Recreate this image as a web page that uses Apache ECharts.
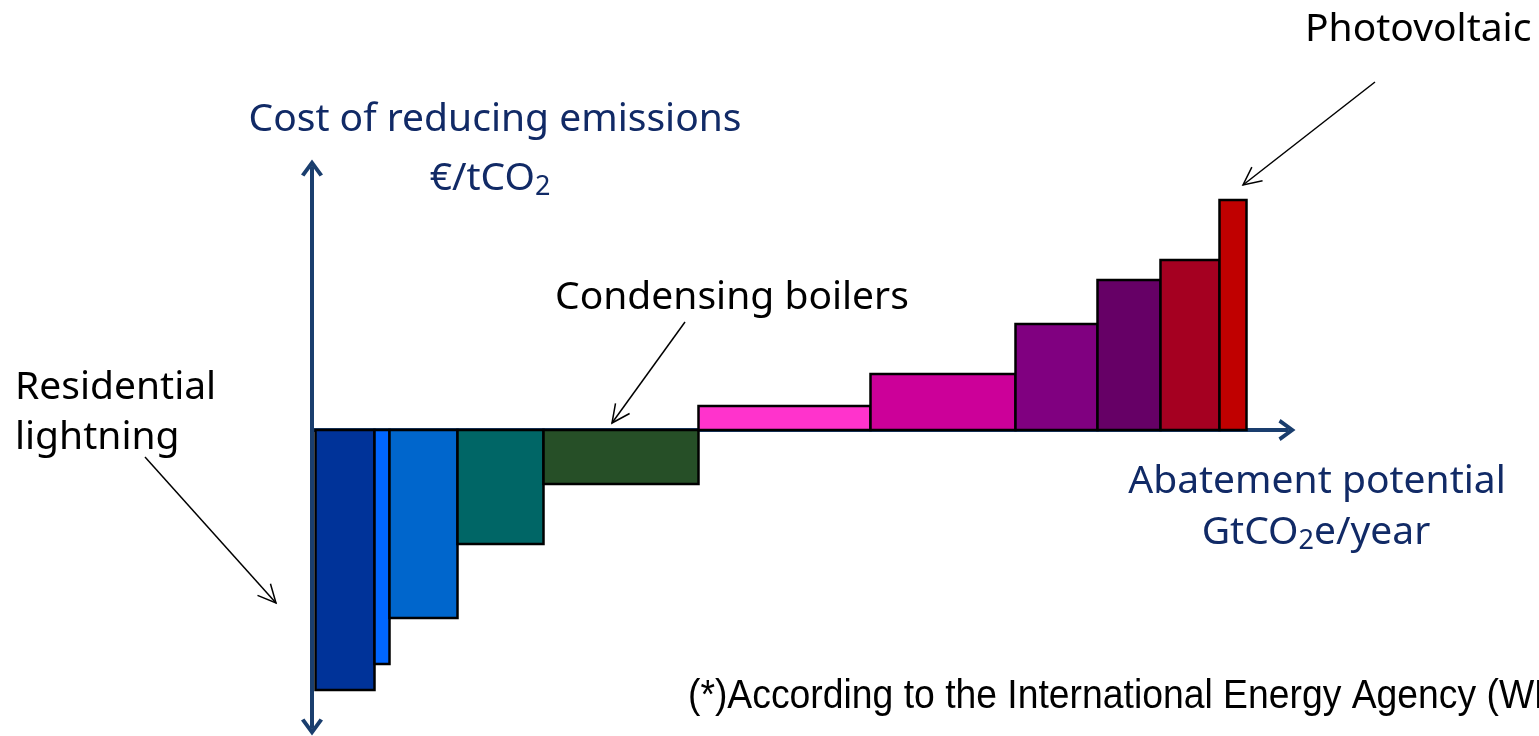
<!DOCTYPE html>
<html>
<head>
<meta charset="utf-8">
<script src="https://cdn.jsdelivr.net/npm/echarts@6/dist/echarts.min.js"></script>
<style>
  html, body { margin: 0; padding: 0; background: #ffffff; }
  #chart { width: 1539px; height: 736px; }
</style>
</head>
<body>
<div id="chart"></div>
<script>
// Marginal abatement cost curve: each block's width is its abatement potential,
// its height the cost of reducing one tonne of CO2.
const measures = ['Residential lightning', 'Measure 2', 'Measure 3', 'Measure 4', 'Condensing boilers',
                  'Measure 6', 'Measure 7', 'Measure 8', 'Measure 9', 'Measure 10', 'Photovoltaic'];
const potential = [0.59, 0.15, 0.68, 0.86, 1.55, 1.72, 1.45, 0.82, 0.63, 0.59, 0.27]; // GtCO2e/year
const cost = [-130, -117, -94, -57, -27, 12, 28, 53, 75, 85, 115];                    // €/tCO2
const colors = ['#003399', '#0066FF', '#0066CC', '#006666', '#264F27',
                '#FF33CC', '#CC0099', '#800080', '#660066', '#A50021', '#C00000'];

const NAVY = '#1a3e6e';
const TEXT_NAVY = '#112a66';
const START = 0.035;

// cumulative x-extents of each block
const blocks = [];
let acc = START;
for (let i = 0; i < potential.length; i++) {
  blocks.push([acc, acc + potential[i], cost[i], i]);
  acc += potential[i];
}

const chevron = 'path://M0,15 L11,0 L22,15 L18.6,17 L11,6.4 L3.4,17 Z';

const chart = echarts.init(document.getElementById('chart'), null, { renderer: 'canvas' });

const option = {
  backgroundColor: '#ffffff',
  animation: false,
  grid: { left: 312, right: 252, top: 168, bottom: 9 },
  xAxis: {
    type: 'value', min: 0, max: 9.75,
    axisLine: { show: true, onZero: true, symbol: ['none', chevron], symbolSize: [22, 17],
                lineStyle: { color: NAVY, width: 4 } },
    axisTick: { show: false }, axisLabel: { show: false }, splitLine: { show: false }
  },
  yAxis: {
    type: 'value', min: -148.5, max: 131,
    axisLine: { show: true, onZero: true, symbol: [chevron, chevron], symbolSize: [22, 17],
                lineStyle: { color: NAVY, width: 4 } },
    axisTick: { show: false }, axisLabel: { show: false }, splitLine: { show: false }
  },
  series: [{
    type: 'custom',
    clip: false,
    data: blocks,
    encode: { x: [0, 1], y: 2 },
    renderItem: function (params, api) {
      const p0 = api.coord([api.value(0), 0]);
      const p1 = api.coord([api.value(1), api.value(2)]);
      const x = Math.min(p0[0], p1[0]);
      const y = Math.min(p0[1], p1[1]);
      return {
        type: 'rect',
        shape: { x: x, y: y, width: Math.abs(p1[0] - p0[0]), height: Math.abs(p1[1] - p0[1]) },
        style: { fill: colors[api.value(3)], stroke: '#000000', lineWidth: 2.5 }
      };
    }
  }],
  graphic: []
};

chart.setOption(option);

// annotation texts and thin pointer arrows
const FONT = '"Noto Sans", "DejaVu Sans", sans-serif';
const SIZE = 39;
function arrow(x1, y1, x2, y2) {
  const ang = Math.atan2(y2 - y1, x2 - x1);
  const len = 20, spread = 0.45;
  const a = [x2 - len * Math.cos(ang - spread), y2 - len * Math.sin(ang - spread)];
  const b = [x2 - len * Math.cos(ang + spread), y2 - len * Math.sin(ang + spread)];
  return [
    { type: 'line', shape: { x1: x1, y1: y1, x2: x2, y2: y2 }, style: { stroke: '#000', lineWidth: 1.5 } },
    { type: 'polyline', shape: { points: [a, [x2, y2], b] }, style: { stroke: '#000', lineWidth: 1.5, fill: null } }
  ];
}
function label(text, x, y, color, align) {
  return { type: 'text', x: x, y: y,
           style: { text: text, fill: color, font: SIZE + 'px ' + FONT, textAlign: align || 'left', textVerticalAlign: 'middle' } };
}
function subscripted(parts, x, y) {
  return { type: 'text', x: x, y: y,
    style: { text: parts, textAlign: 'center', textVerticalAlign: 'middle',
             rich: { a: { fontSize: SIZE, fontFamily: FONT, fill: TEXT_NAVY },
                     s: { fontSize: 27, fontFamily: FONT, fill: TEXT_NAVY, padding: [17, 0, 0, 0] } } } };
}

const graphics = [];
graphics.push(label('Cost of reducing emissions', 495, 120, TEXT_NAVY, 'center'));
graphics.push(subscripted('{a|€/tCO}{s|2}', 490, 179));
graphics.push(label('Abatement potential', 1317, 482, TEXT_NAVY, 'center'));
graphics.push(subscripted('{a|GtCO}{s|2}{a|e/year}', 1316, 533));
graphics.push(label('Photovoltaic', 1305, 30, '#000'));
graphics.push(label('Condensing boilers', 555, 298, '#000'));
graphics.push(label('Residential', 15, 388, '#000'));
graphics.push(label('lightning', 15, 438, '#000'));
graphics.push(...arrow(1375, 82, 1243, 185));
graphics.push(...arrow(685, 322, 612, 423));
graphics.push(...arrow(145, 457, 276, 603));
graphics.push({ type: 'text', x: 688, y: 697, scaleX: 0.91,
  style: { text: '(*)According to the International Energy Agency (WEO 2009)', fill: '#000',
           font: '41px "Liberation Sans", Arial, sans-serif',
           textAlign: 'left', textVerticalAlign: 'middle' } });

chart.setOption({ graphic: graphics });
</script>
</body>
</html>
